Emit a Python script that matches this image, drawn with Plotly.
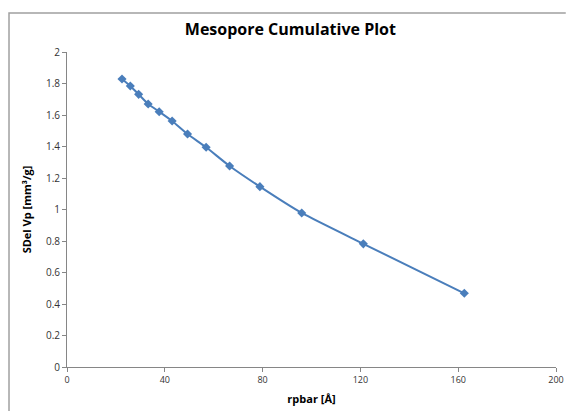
import plotly.graph_objects as go

rpbar = [22.5, 25.9, 29.3, 33.2, 37.7, 43.0, 49.3, 56.9, 66.5, 78.9, 96.0, 121.2, 162.5]
sdel_vp = [1.829, 1.784, 1.731, 1.670, 1.621, 1.562, 1.479, 1.395, 1.276, 1.145, 0.978, 0.782, 0.468]

title_text = "Mesopore Cumulative Plot"
x_title = "rpbar [Å]"
y_title = "SDel Vp [mm³/g]"

line_color = "#4a7ebb"
axis_color = "#868686"
font_family = "Open Sans, Liberation Sans, Arial"

fig = go.Figure()
fig.add_trace(go.Scatter(
    x=rpbar, y=sdel_vp, mode="lines+markers",
    line=dict(color=line_color, width=2, shape="spline", smoothing=0.6),
    marker=dict(symbol="diamond", size=7, color=line_color),
    showlegend=False,
))

fig.update_layout(
    width=566, height=414,
    margin=dict(l=67, r=10, t=52, b=47),
    paper_bgcolor="white", plot_bgcolor="white",
    font=dict(family=font_family, color="#000000"),
    title=dict(text="<b>" + title_text + "</b>", x=0.513, xanchor="center",
               y=0.928, yanchor="middle", font=dict(size=16, family=font_family)),
    xaxis=dict(
        range=[0, 200], tickmode="linear", tick0=0, dtick=40,
        showline=True, linecolor=axis_color, linewidth=1, mirror=False,
        ticks="outside", ticklen=4, tickcolor=axis_color,
        showgrid=False, zeroline=False, automargin=False,
        tickfont=dict(size=9, color="#333333"),
        title=dict(text="<b>" + x_title + "</b>", font=dict(size=11), standoff=10),
    ),
    yaxis=dict(
        range=[0, 2], tickmode="linear", tick0=0, dtick=0.2,
        showline=True, linecolor=axis_color, linewidth=1, mirror=False,
        ticks="outside", ticklen=4, tickcolor=axis_color,
        showgrid=False, zeroline=False, automargin=False,
        tickfont=dict(size=10, color="#333333"),
        title=dict(text="<b>" + y_title + "</b>", font=dict(size=11), standoff=12),
    ),
    shapes=[
        dict(type="path", xref="paper", yref="paper",
             path="M -0.1186,-0.14 L -0.1186,1.1238 L 1.02,1.1238",
             line=dict(color="#a0a0a0", width=1.5), layer="below"),
    ],
)

fig.write_html("out.html", config={"displayModeBar": False})
